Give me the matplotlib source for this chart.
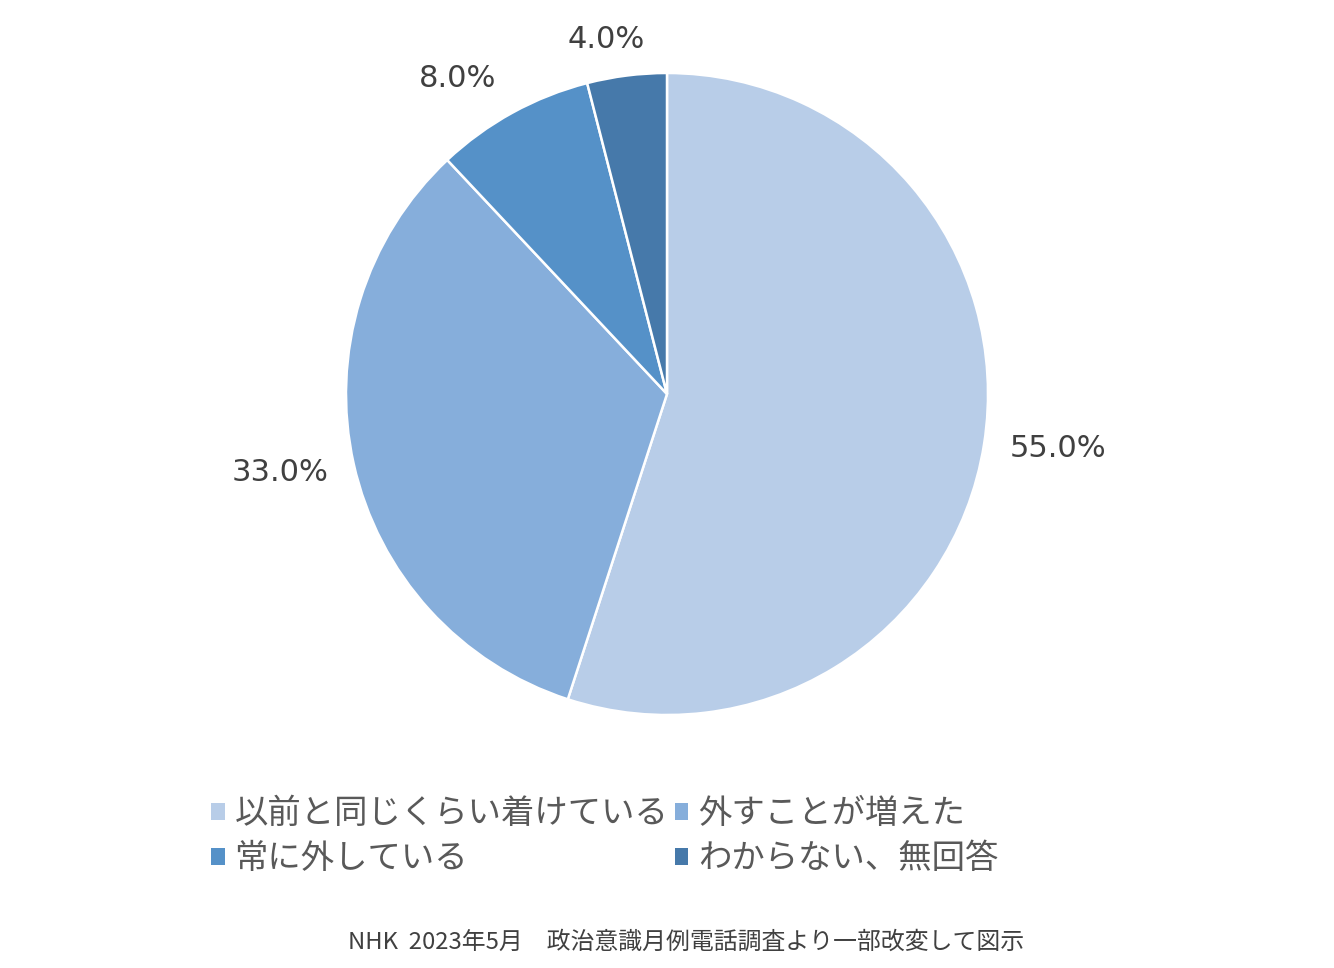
import numpy as np
import matplotlib
matplotlib.use('Agg')
import matplotlib.pyplot as plt

plt.rcParams['font.family'] = ['Noto Sans CJK JP', 'DejaVu Sans']

# data
categories = ['以前と同じくらい着けている', '外すことが増えた', '常に外している', 'わからない、無回答']
shares = [55.0, 33.0, 8.0, 4.0]
colors = ['#B8CDE8', '#86AEDB', '#5591C8', '#4679AA']
source = 'NHK  2023年5月　政治意識月例電話調査より一部改変して図示'

# label placement (radius, angle shift in degrees) - mimics Excel's outside-end labels
label_r = [1.23, 1.23, 1.18, 1.12]
label_shift = [1.0, -1.2, 4.8, 2.6]

W, H = 1334, 968
fig = plt.figure(figsize=(W / 100, H / 100), dpi=100)
cx, cy, R = 667, 968 - 394, 321
ax = fig.add_axes([(cx - R) / W, (cy - R) / H, 2 * R / W, 2 * R / H])

wedges, _ = ax.pie(shares, colors=colors, startangle=90, counterclock=False,
                   wedgeprops=dict(edgecolor='white', linewidth=1.8))
ax.set_xlim(-1, 1)
ax.set_ylim(-1, 1)
ax.set_aspect('equal')

for w, v, r, s in zip(wedges, shares, label_r, label_shift):
    ang = np.deg2rad((w.theta1 + w.theta2) / 2 + s)
    ax.text(r * np.cos(ang), r * np.sin(ang), f'{v:.1f}%', ha='center', va='center',
            fontsize=22, color='#404040', family='DejaVu Sans')

# legend is filled row by row in the original
order = [0, 2, 1, 3]
leg = fig.legend([wedges[i] for i in order], [categories[i] for i in order],
                 ncol=2, loc='center',
                 bbox_to_anchor=(605 / W, 1 - 836 / H), frameon=False,
                 fontsize=24, labelcolor='#595959',
                 handlelength=0.4, handleheight=0.4, handletextpad=0.3,
                 columnspacing=0.2, labelspacing=0.3)
for h in leg.legend_handles:
    h.set_edgecolor('none')

fig.text(686 / W, 1 - 942 / H, source, ha='center', va='center',
         fontsize=17.2, color='#404040')

fig.savefig('out.png', dpi=100)
